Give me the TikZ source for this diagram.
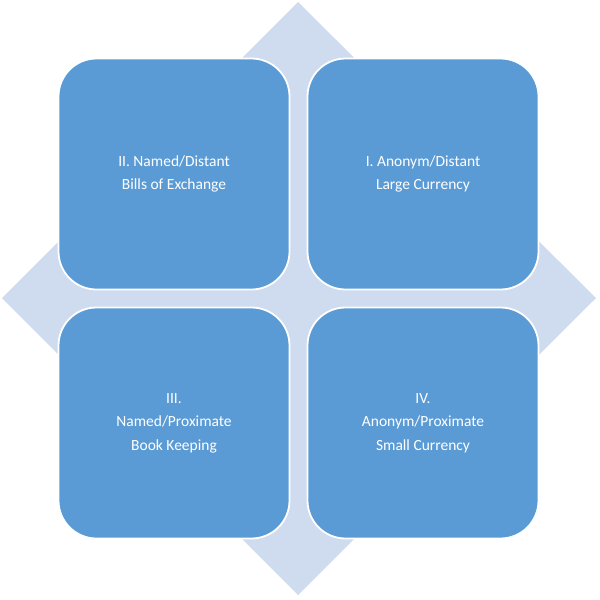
\documentclass[tikz,border=0pt]{standalone}
\usepackage{fontspec}
\setmainfont{Carlito}
\definecolor{quadblue}{HTML}{5B9BD5}
\definecolor{diamondgrey}{HTML}{CFDBEE}
\begin{document}
\begin{tikzpicture}[x=1pt,y=-1pt,
	quadrant/.style={rectangle,rounded corners=38pt,fill=quadblue,draw=white,line width=1.8pt,
		minimum width=231pt,minimum height=231pt,align=center,text=white,
		font=\fontsize{15.5}{23.5}\selectfont}]
			\useasboundingbox (0,0) rectangle (600,600);
			\fill[diamondgrey] (298,2)--(596,298)--(298,595)--(2,298)--cycle;
			\node[quadrant] (named distant) at (174,174) {II. Named/Distant\\Bills of Exchange};
			\node[quadrant] (anonym distant) at (423,174) {I. Anonym/Distant\\Large Currency};
			\node[quadrant] (named proximate) at (174,423) {III.\\Named/Proximate\\Book Keeping};
			\node[quadrant] (anonym proximate) at (423,423) {IV.\\Anonym/Proximate\\Small Currency};
		\end{tikzpicture}
\end{document}
